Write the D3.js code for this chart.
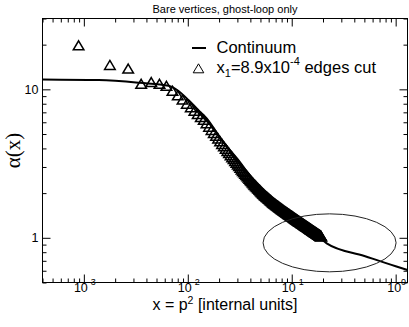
<!DOCTYPE html>
<html>
<head>
<meta charset="utf-8">
<script src="https://cdn.jsdelivr.net/npm/d3@7"></script>
<style>
  body { margin: 0; background: #fff; }
  text { font-family: "Liberation Sans", Arial, Helvetica, sans-serif; fill: #000; }
</style>
</head>
<body>
<div id="chart"></div>
<script>
(function () {

// spacing of the cut edges, from the legend: x_n = n * x1
const x1 = 8.9e-4;

// alpha at x = n*x1, n = 1, 2, 3 ... (triangles)
const alphaCut = [
  19.8, 14.6, 13.8, 10.9, 11.2, 10.9, 10.56, 9.77, 9.12, 8.53,
  8.01, 7.56, 7.17, 6.82, 6.51, 6.23, 5.90, 5.60, 5.33, 5.09,
  4.86, 4.66, 4.47, 4.29, 4.13, 3.98, 3.85, 3.72, 3.60, 3.49,
  3.39, 3.29, 3.20, 3.12, 3.04, 2.96, 2.89, 2.82, 2.76, 2.70,
  2.65, 2.60, 2.55, 2.50, 2.45, 2.41, 2.37, 2.33, 2.29, 2.26,
  2.226, 2.195, 2.165, 2.136, 2.108, 2.081, 2.054, 2.028, 2.004, 1.980,
  1.958, 1.938, 1.919, 1.901, 1.883, 1.865, 1.848, 1.831, 1.815, 1.799,
  1.783, 1.768, 1.753, 1.739, 1.724, 1.711, 1.699, 1.688, 1.676, 1.665,
  1.654, 1.644, 1.633, 1.623, 1.613, 1.603, 1.593, 1.583, 1.574, 1.565,
  1.556, 1.546, 1.538, 1.529, 1.521, 1.513, 1.505, 1.498, 1.490, 1.483,
  1.476, 1.469, 1.462, 1.455, 1.448, 1.441, 1.435, 1.428, 1.422, 1.415,
  1.409, 1.403, 1.397, 1.391, 1.385, 1.379, 1.373, 1.368, 1.362, 1.357,
  1.351, 1.346, 1.340, 1.335, 1.330, 1.325, 1.319, 1.314, 1.309, 1.304,
  1.300, 1.295, 1.290, 1.286, 1.281, 1.277, 1.272, 1.268, 1.263, 1.259,
  1.255, 1.251, 1.246, 1.242, 1.238, 1.234, 1.230, 1.226, 1.222, 1.218,
  1.214, 1.211, 1.207, 1.203, 1.199, 1.196, 1.192, 1.188, 1.185, 1.181,
  1.178, 1.174, 1.171, 1.167, 1.164, 1.161, 1.157, 1.154, 1.151, 1.147,
  1.144, 1.141, 1.138, 1.135, 1.132, 1.128, 1.125, 1.122, 1.119, 1.116,
  1.113, 1.110, 1.108, 1.105, 1.102, 1.099, 1.096, 1.093, 1.091, 1.088,
  1.085, 1.082, 1.080, 1.077, 1.074, 1.072, 1.069, 1.067, 1.064, 1.061,
  1.059, 1.056, 1.054, 1.051, 1.049, 1.047, 1.044, 1.042, 1.039, 1.037,
  1.035, 1.032, 1.030, 1.028, 1.025, 1.023
];

// continuum curve
const contX = [4e-4, 1.39e-3, 3.46e-3, 6.56e-3, 8.19e-3, 0.0102, 0.0128, 0.0152, 0.0199, 0.0248,
  0.0316, 0.0386, 0.0482, 0.0601, 0.0733, 0.0935, 0.117, 0.146, 0.182, 0.217, 0.5, 1.0, 1.3];
const contAlpha = [11.67, 11.55, 11.06, 10.56, 9.70, 8.44, 7.17, 6.38, 4.87, 3.98,
  3.25, 2.68, 2.21, 1.86, 1.66, 1.455, 1.295, 1.144, 1.011, 0.918, 0.755, 0.643, 0.607];

// ticks
const xMajor = [1e-3, 1e-2, 1e-1, 1];
const xMajorExp = ["-3", "-2", "-1", "0"];
const yMajor = [1, 10];
const yMajorLabels = ["1", "10"];

// ellipse marking the large-x region, as a box in data units
const ellipseX = [0.053, 1.01];
const ellipseY = [0.59, 1.45];

const width = 409, height = 327;
const left = 42.5, right = 407.5, top = 18.5, bottom = 282.5;

const svg = d3.select("#chart").append("svg")
    .attr("width", width)
    .attr("height", height);

const x = d3.scaleLog().domain([4e-4, 1.3]).range([left, right]);
const y = d3.scaleLog().domain([0.5, 30]).range([bottom, top]);

const isMajor = (list, v) => list.some(m => Math.abs(m - v) / m < 1e-6);
const xMinor = x.ticks().filter(v => !isMajor(xMajor, v));
const yMinor = y.ticks().filter(v => !isMajor(yMajor, v));

// ticks on all four sides, pointing in
function ticks(axisFn, scale, values, size, tr) {
  const g = svg.append("g")
      .attr("transform", tr)
      .call(axisFn(scale).tickValues(values).tickSize(-size).tickFormat(""));
  g.select(".domain").remove();
  g.selectAll("line").attr("stroke", "#000");
}
ticks(d3.axisBottom, x, xMinor, 4, `translate(0,${bottom})`);
ticks(d3.axisBottom, x, xMajor, 8, `translate(0,${bottom})`);
ticks(d3.axisTop, x, xMinor, 4, `translate(0,${top})`);
ticks(d3.axisTop, x, xMajor, 8, `translate(0,${top})`);
ticks(d3.axisLeft, y, yMinor, 4, `translate(${left},0)`);
ticks(d3.axisLeft, y, yMajor, 8, `translate(${left},0)`);
ticks(d3.axisRight, y, yMinor, 4, `translate(${right},0)`);
ticks(d3.axisRight, y, yMajor, 8, `translate(${right},0)`);

svg.append("rect")
    .attr("x", left).attr("y", top)
    .attr("width", right - left).attr("height", bottom - top)
    .attr("fill", "none").attr("stroke", "#000");

// tick labels
const xl = svg.append("g").selectAll("text")
  .data(xMajor)
  .join("text")
    .attr("x", d => x(d) + 1)
    .attr("y", 292)
    .attr("text-anchor", "middle")
    .style("font-size", "12.5px");
xl.append("tspan").text("10");
xl.append("tspan").attr("dy", -7).style("font-size", "9px").text((d, i) => xMajorExp[i]);

svg.append("g").selectAll("text")
  .data(yMajor)
  .join("text")
    .attr("x", left - 4)
    .attr("y", d => y(d) + 4.5)
    .attr("text-anchor", "end")
    .style("font-size", "12.5px")
    .text((d, i) => yMajorLabels[i]);

// titles
svg.append("text")
    .attr("x", (left + right) / 2).attr("y", 12.5)
    .attr("text-anchor", "middle")
    .style("font-size", "11px")
    .text("Bare vertices, ghost-loop only");

const xt = svg.append("text")
    .attr("x", (left + right) / 2).attr("y", 310)
    .attr("text-anchor", "middle")
    .style("font-size", "16px");
xt.append("tspan").text("x = p");
xt.append("tspan").attr("dy", -6).style("font-size", "10.5px").text("2");
xt.append("tspan").attr("dy", 6).text(" [internal units]");

svg.append("text")
    .attr("transform", `translate(20,${(top + bottom) / 2}) rotate(-90)`)
    .attr("text-anchor", "middle")
    .style("font-family", "'Liberation Serif', 'Times New Roman', serif")
    .style("font-size", "21px")
    .text("\u03b1(x)");

// continuum line
const line = d3.line()
    .x(d => x(d[0]))
    .y(d => y(d[1]))
    .curve(d3.curveMonotoneX);

svg.append("path")
    .datum(d3.zip(contX, contAlpha))
    .attr("d", line)
    .attr("fill", "none")
    .attr("stroke", "#000")
    .attr("stroke-width", 2);

// triangles
const tri = "M0,-4.5L5.3,4.5L-5.3,4.5Z";
svg.append("g").selectAll("path")
  .data(alphaCut)
  .join("path")
    .attr("transform", (d, i) => `translate(${x((i + 1) * x1)},${y(d)})`)
    .attr("d", tri)
    .attr("fill", "none")
    .attr("stroke", "#000")
    .attr("stroke-width", 1.5);

// ellipse
svg.append("ellipse")
    .attr("cx", (x(ellipseX[0]) + x(ellipseX[1])) / 2)
    .attr("cy", (y(ellipseY[0]) + y(ellipseY[1])) / 2)
    .attr("rx", (x(ellipseX[1]) - x(ellipseX[0])) / 2)
    .attr("ry", (y(ellipseY[0]) - y(ellipseY[1])) / 2)
    .attr("fill", "none")
    .attr("stroke", "#222")
    .attr("stroke-width", 1);

// legend
const lg = svg.append("g");
lg.append("line")
    .attr("x1", 192).attr("x2", 206).attr("y1", 48).attr("y2", 48)
    .attr("stroke", "#000").attr("stroke-width", 2);
lg.append("text")
    .attr("x", 216.5).attr("y", 53.3)
    .style("font-size", "16.5px")
    .text("Continuum");
lg.append("path")
    .attr("transform", "translate(198.5,68.3)")
    .attr("d", tri)
    .attr("fill", "none").attr("stroke", "#000");
const lt = lg.append("text")
    .attr("x", 216.5).attr("y", 73.3)
    .style("font-size", "16.5px");
lt.append("tspan").text("x");
lt.append("tspan").attr("dy", 4).style("font-size", "11px").text("1");
lt.append("tspan").attr("dy", -4).text("=8.9x10");
lt.append("tspan").attr("dy", -8).style("font-size", "11px").text("-4");
lt.append("tspan").attr("dy", 8).text(" edges cut");

})()
</script>
</body>
</html>
